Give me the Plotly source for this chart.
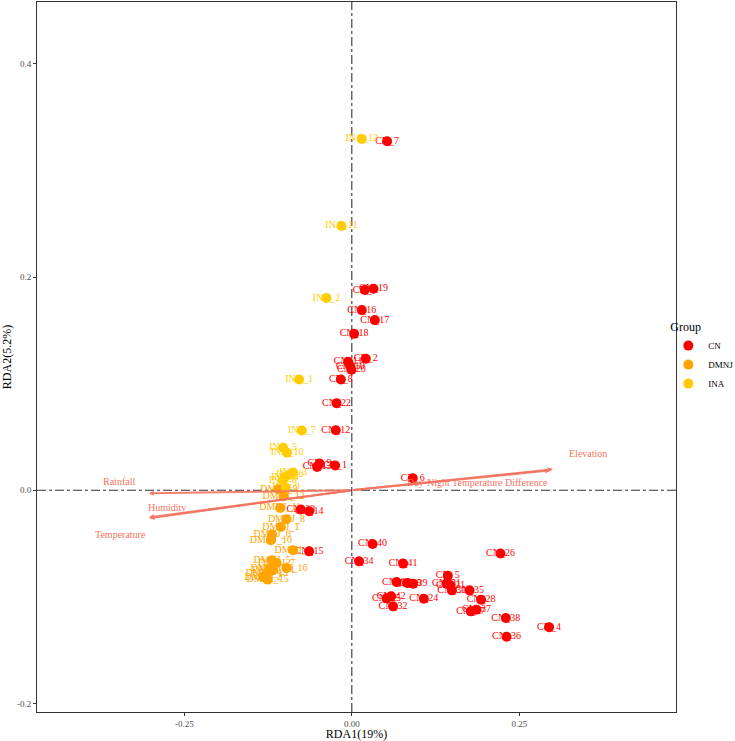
import plotly.graph_objects as go

# ---------------- data ----------------
cn_labels = ["CN_7", "CN_19", "CN_3", "CN_16", "CN_17", "CN_18", "CN_2", "CN_11", "CN_10", "CN_20",
             "CN_8", "CN_22", "CN_12", "CN_9", "CN_13", "CN_1", "CN_14", "CN_23", "CN_15", "CN_6",
             "CN_40", "CN_34", "CN_41", "CN_26", "CN_5", "CN_33", "CN_29", "CN_39", "CN_31", "CN_21",
             "CN_30", "CN_35", "CN_28", "CN_37", "CN_27", "CN_38", "CN_4", "CN_36", "CN_42", "CN_25",
             "CN_32", "CN_24"]
cn_x = [0.0527, 0.0324, 0.0194, 0.0149, 0.0343, 0.0034, 0.0209, -0.0055, -0.0022, -0.0007,
        -0.0164, -0.0228, -0.0239, -0.0482, -0.0518, -0.0249, -0.0637, -0.0761, -0.0637, 0.0910,
        0.0309, 0.0109, 0.0766, 0.2219, 0.1433, 0.0667, 0.0825, 0.0915, 0.1413, 0.1473,
        0.1493, 0.1757, 0.1930, 0.1861, 0.1776, 0.2299, 0.2945, 0.2309, 0.0587, 0.0518,
        0.0616, 0.1075]
cn_y = [0.3274, 0.1890, 0.1878, 0.1690, 0.1596, 0.1467, 0.1233, 0.1205, 0.1164, 0.1131,
        0.1039, 0.0817, 0.0563, 0.0251, 0.0219, 0.0232, -0.0197, -0.0181, -0.0573, 0.0113,
        -0.0504, -0.0667, -0.0688, -0.0594, -0.0801, -0.0861, -0.0870, -0.0876, -0.0876, -0.0892,
        -0.0939, -0.0939, -0.1026, -0.1120, -0.1136, -0.1199, -0.1284, -0.1374, -0.0995, -0.1014,
        -0.1089, -0.1017]

dm_labels = ["DMNJ_9", "DMNJ_12", "DMNJ_11", "DMNJ_8", "DMNJ_1", "DMNJ_6", "DMNJ_10", "DMNJ_3",
             "DMNJ_5", "DMNJ_7", "DMNJ_16", "DMNJ_4", "DMNJ_14", "DMNJ_13", "DMNJ_2", "DMNJ_15"]
dm_x = [-0.1090, -0.1019, -0.1070, -0.0975, -0.1060, -0.1190, -0.1209, -0.0876,
        -0.1190, -0.1124, -0.0975, -0.1234, -0.1175, -0.1273, -0.1324, -0.1258]
dm_y = [0.0009, -0.0056, -0.0166, -0.0272, -0.0345, -0.0416, -0.0469, -0.0563,
        -0.0657, -0.0683, -0.0730, -0.0735, -0.0751, -0.0782, -0.0814, -0.0838]

ina_labels = ["INA_12", "INA_11", "INA_2", "INA_1", "INA_7", "INA_5", "INA_10", "INA_3",
              "INA_6", "INA_4", "INA_8", "INA_9"]
ina_x = [0.0149, -0.0154, -0.0378, -0.0787, -0.0746, -0.1025, -0.0967, -0.0876,
         -0.0925, -0.1000, -0.1030, -0.0985]
ina_y = [0.3296, 0.2479, 0.1803, 0.1039, 0.0561, 0.0399, 0.0353, 0.0167,
         0.0146, 0.0122, 0.0094, 0.0023]

env_names = ["Elevation", "Day-Night Temperature Difference", "Rainfall", "Humidity", "Temperature"]
env_x = [0.300, 0.296, -0.303, -0.303, -0.302]
env_y = [0.0197, 0.0186, -0.0028, -0.0254, -0.0262]
env_label_x = [0.352, 0.187, -0.348, -0.276, -0.346]
env_label_y = [0.0347, 0.0075, 0.0085, -0.0160, -0.0413]

groups = ["CN", "DMNJ", "INA"]
colors = {"CN": "#FF0000", "DMNJ": "#FFA500", "INA": "#FFCC00"}
arrow_color = "#F4735F"
serif = "Liberation Serif, Times New Roman, serif"

x_range = [-0.470, 0.484]
y_range = [-0.208, 0.458]
x_ticks = [-0.25, 0.0, 0.25]
x_ticktext = ["-0.25", "0.00", "0.25"]
y_ticks = [-0.2, 0.0, 0.2, 0.4]
y_ticktext = ["-0.2", "0.0", "0.2", "0.4"]

fig = go.Figure()

# reference lines through origin
fig.add_trace(go.Scatter(x=[0, 0], y=y_range, mode="lines", showlegend=False, hoverinfo="skip",
                         line=dict(color="#333333", width=1.1, dash="dashdot")))
fig.add_trace(go.Scatter(x=x_range, y=[0, 0], mode="lines", showlegend=False, hoverinfo="skip",
                         line=dict(color="#333333", width=1.1, dash="dashdot")))

data = {"CN": (cn_x, cn_y, cn_labels), "DMNJ": (dm_x, dm_y, dm_labels), "INA": (ina_x, ina_y, ina_labels)}

# text labels (drawn beneath points)
for g in groups:
    xs, ys, labs = data[g]
    fig.add_trace(go.Scatter(x=xs, y=ys, mode="text", text=labs, textposition="middle center",
                             textfont=dict(family=serif, size=10, color=colors[g]),
                             showlegend=False, hoverinfo="skip"))

# points
for g in groups:
    xs, ys, labs = data[g]
    fig.add_trace(go.Scatter(x=xs, y=ys, mode="markers", name=g, text=labs,
                             marker=dict(color=colors[g], size=10, line=dict(width=0))))

# environmental arrows
for name, ex, ey, lx, ly in zip(env_names, env_x, env_y, env_label_x, env_label_y):
    fig.add_annotation(x=ex, y=ey, ax=0, ay=0, xref="x", yref="y", axref="x", ayref="y",
                       text="", showarrow=True, arrowhead=2, arrowsize=0.5, arrowwidth=2,
                       arrowcolor=arrow_color, opacity=0.9)
    fig.add_annotation(x=lx, y=ly, xref="x", yref="y", text=name, showarrow=False,
                       font=dict(family=serif, size=10, color=arrow_color))

fig.update_layout(
    width=735, height=741,
    margin=dict(l=37, r=59, t=2, b=29, autoexpand=False),
    plot_bgcolor="white", paper_bgcolor="white",
    font=dict(family=serif, color="#000000"),
    legend=dict(title=dict(text="Group", font=dict(family=serif, size=12, color="#000000")),
                font=dict(family=serif, size=9, color="#000000"),
                x=0.988, xanchor="left", y=0.5, yanchor="middle", bgcolor="rgba(0,0,0,0)"),
    xaxis=dict(range=x_range, tickvals=x_ticks, ticktext=x_ticktext, showgrid=False, zeroline=False,
               showline=True, mirror=True, linecolor="#333333", linewidth=1,
               ticks="outside", ticklen=3, tickcolor="#333333",
               tickfont=dict(family=serif, size=9, color="#4D4D4D"),
               title=dict(text="RDA1(19%)", font=dict(family=serif, size=12, color="#000000"), standoff=0)),
    yaxis=dict(range=y_range, tickvals=y_ticks, ticktext=y_ticktext, showgrid=False, zeroline=False,
               showline=True, mirror=True, linecolor="#333333", linewidth=1,
               ticks="outside", ticklen=3, tickcolor="#333333",
               tickfont=dict(family=serif, size=9, color="#4D4D4D"),
               title=dict(text="RDA2(5.2%)", font=dict(family=serif, size=12, color="#000000"), standoff=4)),
)

fig.write_html("out.html")
